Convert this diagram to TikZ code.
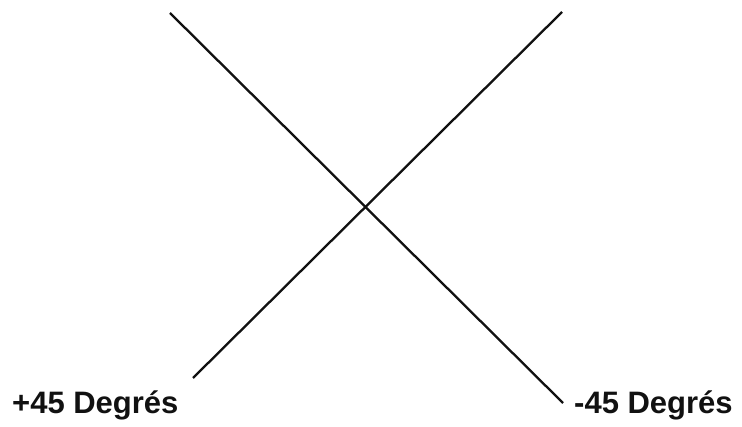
\documentclass[tikz,border=0pt]{standalone}
\usepackage{fontspec}
\setmainfont{Liberation Sans}
\usepackage{tikz}
\usetikzlibrary{positioning}
\definecolor{cInk}{HTML}{111111}
\tikzset{
  axe/.style  ={draw=cInk,line width=2.3pt},
  lbl/.style  ={font=\fontsize{31}{34}\selectfont\bfseries,text=cInk,inner sep=0pt},
}

\begin{document}
\begin{tikzpicture}[x=1pt,y=-1pt]
\useasboundingbox (0,0) rectangle (742,427);
% ends of the two lines
\coordinate (hg) at (170,13);
\coordinate (bd) at (563,403);
\coordinate (hd) at (562,12);
\coordinate (bg) at (193,378);

% labels
\node[lbl,anchor=base west] (plus) at (12,414) {+45 Degrés};
\node[lbl,anchor=base west] (moins) at (574,414) {-45 Degrés};

\draw[axe] (hg)--(bd);
\draw[axe] (bg)--(hd);
\end{tikzpicture}
\end{document}
